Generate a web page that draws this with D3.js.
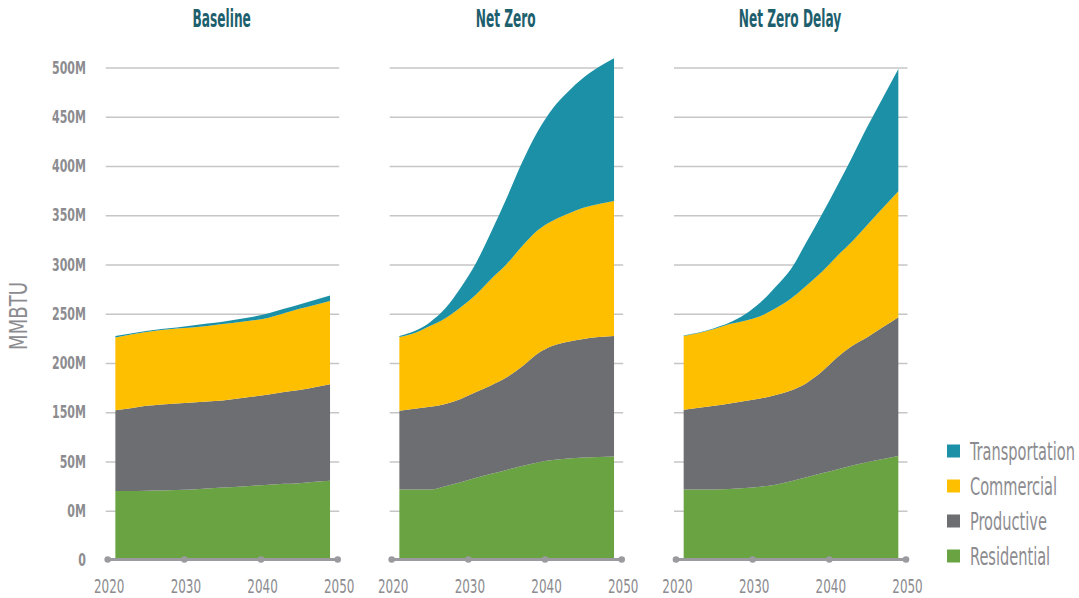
<!DOCTYPE html>
<html><head><meta charset="utf-8">
<script src="https://cdn.jsdelivr.net/npm/d3@7"></script>
<style>
html,body{margin:0;padding:0;background:#fff;}
svg{display:block;font-family:"Liberation Sans Narrow","DejaVu Sans Condensed","Liberation Sans",sans-serif;}
</style></head><body>
<svg id="chart" width="1079" height="598"></svg>
<script>
// ---- data ----
const years = [2021,2023,2025,2027,2029,2031,2033,2035,2037,2039,2041,2043,2045,2047,2049];
const scenarios = ["Baseline","Net Zero","Net Zero Delay"];
const seriesNames = ["Residential","Productive","Commercial","Transportation"];

const baselineResidential    = [70.5,70.5,70.8,71,71.5,72,73,74,75,76,77,77.8,78.5,80,81];
const baselineProductive     = [82,84,86.2,87.5,88,88.5,88.5,88.5,89.5,90.5,91.5,93.2,94.5,96,98];
const baselineCommercial     = [74,75,75,75.5,76,76,76.5,77.5,77.5,77.3,78,80,82.5,83.5,84.5];
const baselineTransportation = [1.5,1,1,1,1,2,2.5,2.5,3,3.7,4.5,4.5,4.5,5,5.5];

const netZeroResidential    = [72,72,72,75.5,79.5,84,88,92,96,99.5,102,103.5,104.5,105,105.5];
const netZeroProductive     = [80,82,84,83.5,84.5,87,90,94,101,110.5,116,118.5,120.5,122,122.5];
const netZeroCommercial     = [75,77,82,87,93,99,108,115,122,125,127,130,133,135,137];
const netZeroTransportation = [1,2,4,10,20,32,48,67,85,100,114,124,132,139,145];

const delayResidential    = [72,72,72,72.5,73.5,75,77,80.5,84.5,88.5,92.5,96.5,100,103,106];
const delayProductive     = [81,83,85,87,88.5,89.5,91,92,95.5,103,113.5,121.5,127,134,141];
const delayCommercial     = [75,76,78,80.5,81.5,83.5,88,93.5,99,101.5,103,106,114,121,128];
const delayTransportation = [0.5,0.5,0.8,1.5,6.5,14,22,30,44,58,71,86,100,112,124];

const yTickValues = [0,50,100,150,200,250,300,350,400,450,500];
const yTickLabels = ["0","0M","50M","150M","200M","250M","300M","350M","400M","450M","500M"];
const xTickValues = [2020,2030,2040,2050];
const yAxisTitle = "MMBTU";

// ---- styles ----
const colors = {Residential:"#6aa442", Productive:"#6d6e71", Commercial:"#fdbf00", Transportation:"#1b90a6"};
const textGrey = "#8c8c90";
const titleColor = "#1e5f6d";
const axisGrey = "#9b9a9f";

// text styles: horizontal scale calibrated so that a sample string gets a target width
const styles = {
  yTick:  {size:18, weight:"bold",   sample:"500M",           width:34},
  xTick:  {size:19, weight:"normal", sample:"2020",           width:30.5},
  title:  {size:25, weight:"bold",   sample:"Net Zero",       width:60},
  legend: {size:25, weight:"normal", sample:"Transportation", width:105},
  yTitle: {size:24, weight:"normal", sample:"MMBTU",          width:68}
};

const panelData = [
  {Residential:baselineResidential, Productive:baselineProductive, Commercial:baselineCommercial, Transportation:baselineTransportation},
  {Residential:netZeroResidential, Productive:netZeroProductive, Commercial:netZeroCommercial, Transportation:netZeroTransportation},
  {Residential:delayResidential, Productive:delayProductive, Commercial:delayCommercial, Transportation:delayTransportation}
];

const svg = d3.select("#chart");

// calibrate
Object.values(styles).forEach(st=>{
  const t = svg.append("text").attr("font-size", st.size).attr("font-weight", st.weight).text(st.sample);
  const w = t.node().getComputedTextLength();
  st.sx = w > 0 ? st.width / w : 0.8;
  t.remove();
});

const y = d3.scaleLinear().domain([0,500]).range([560.5,68]);
const panelLeft = [107.7, 391.7, 676];
const panelWidth = 230;

function ctext(g, x, yy, str, st, fill, anchor, rotate){
  return g.append("text")
    .attr("transform", `translate(${x},${yy})${rotate?` rotate(${rotate})`:""} scale(${st.sx},1)`)
    .attr("text-anchor", anchor || "start")
    .attr("font-size", st.size)
    .attr("font-weight", st.weight)
    .attr("fill", fill)
    .text(str);
}

// y-axis labels
yTickValues.forEach((v,i)=>{
  ctext(svg, 86, y(v)+5.5, yTickLabels[i], styles.yTick, textGrey, "end");
});
// y-axis title
ctext(svg, 26.5, 316, yAxisTitle, styles.yTitle, textGrey, "middle", -90);

const stack = d3.stack().keys(seriesNames);

scenarios.forEach((name, p)=>{
  const x0 = panelLeft[p];
  const x = d3.scaleLinear().domain([2020,2050]).range([x0, x0+panelWidth]);
  const g = svg.append("g");

  // gridlines
  g.selectAll("line.grid").data(yTickValues.filter(v=>v>0)).join("line")
    .attr("x1", x0-2).attr("x2", x0+panelWidth+1.5)
    .attr("y1", d=>y(d)).attr("y2", d=>y(d))
    .attr("stroke", "#c6c6c6").attr("stroke-width", 1.5);

  // stacked areas
  const rows = years.map((yr,i)=>{
    const r = {year: yr};
    seriesNames.forEach(s=>{ r[s] = panelData[p][s][i]; });
    return r;
  });
  const layers = stack(rows);
  const area = d3.area()
    .x(d=>x(d.data.year)).y0(d=>y(d[0])).y1(d=>y(d[1]))
    .curve(d3.curveMonotoneX);
  g.selectAll("path.layer").data(layers).join("path")
    .attr("d", area).attr("fill", d=>colors[d.key]);

  // x axis baseline
  const xa = g.append("g").attr("transform", `translate(0,${y(0)-1})`);
  xa.append("line").attr("x1", x(2020)).attr("x2", x(2050))
    .attr("stroke", axisGrey).attr("stroke-width", 3);
  xa.selectAll("circle").data(xTickValues).join("circle")
    .attr("cx", d=>x(d)).attr("cy", 0).attr("r", 3.3).attr("fill", axisGrey);
  xTickValues.forEach(v=>{
    ctext(g, x(v)+1.5, 593, String(v), styles.xTick, textGrey, "middle");
  });

  // panel title
  ctext(g, x0+panelWidth/2-1, 27.3, name, styles.title, titleColor, "middle");
});

// legend
const legendOrder = ["Transportation","Commercial","Productive","Residential"];
legendOrder.forEach((s,i)=>{
  const cy = 451 + i*35;
  svg.append("rect").attr("x", 947).attr("y", cy-6.5).attr("width", 13).attr("height", 13).attr("fill", colors[s]);
  ctext(svg, 970, cy+9, s, styles.legend, textGrey, "start");
});
</script>
</body></html>
